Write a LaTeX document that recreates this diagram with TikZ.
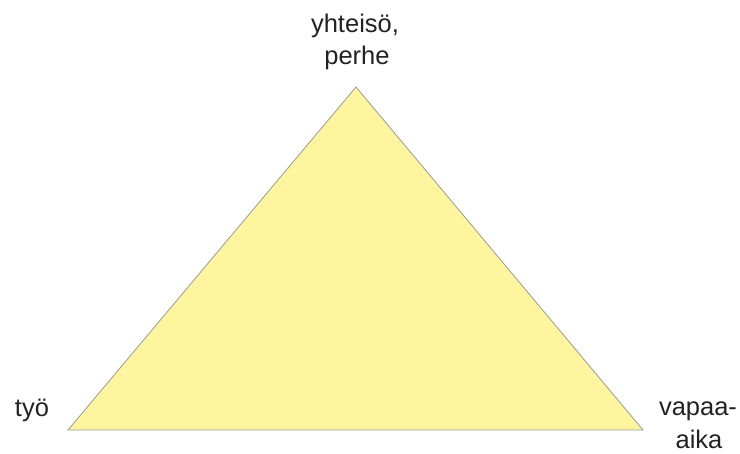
\documentclass[tikz,border=0pt]{standalone}
\usepackage{fontspec}
\setmainfont{Liberation Sans}
\definecolor{trifill}{HTML}{FFF59F}
\definecolor{triedge}{HTML}{9A9A9A}
\definecolor{txt}{HTML}{222222}
\begin{document}
\begin{tikzpicture}[x=1pt,y=-1pt,
  lbl/.style={text=txt,font=\fontsize{25.5}{33}\selectfont,inner sep=0pt,anchor=base,align=center}]
\useasboundingbox (0,0) rectangle (740,454);
\coordinate (top) at (356,87);
\coordinate (bl) at (68,430);
\coordinate (br) at (643,430);
\filldraw[fill=trifill,draw=triedge,line width=0.8pt] (top) -- (bl) -- (br) -- cycle;
\node[lbl] (yh) at (355,33) {yhteisö,};
\node[lbl] (pe) at (357,65) {perhe};
\node[lbl] (ty) at (32,417) {työ};
\node[lbl] (va) at (698,416) {vapaa-};
\node[lbl] (ai) at (699,449) {aika};
\end{tikzpicture}
\end{document}
